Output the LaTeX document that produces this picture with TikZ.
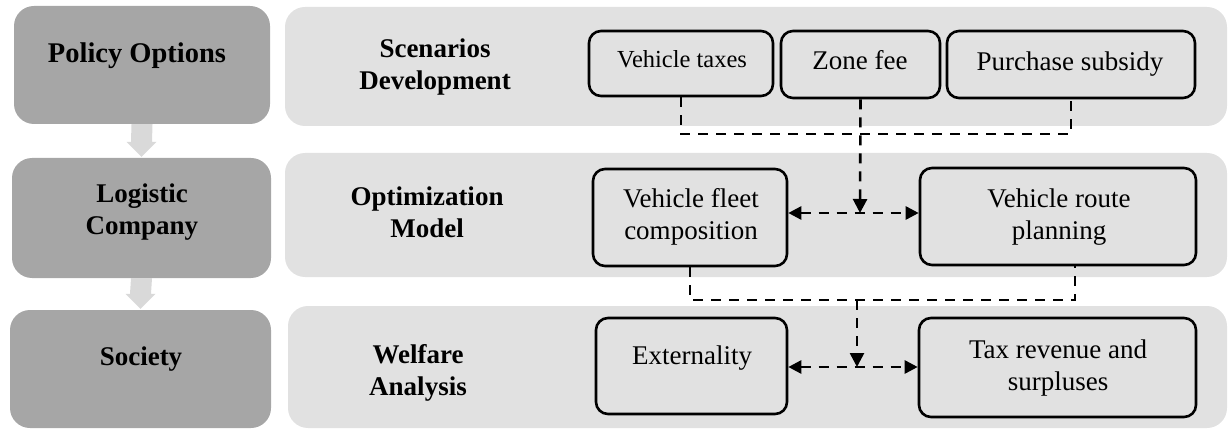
\documentclass[tikz,border=0pt]{standalone}
\usepackage{fontspec}
\setmainfont{Liberation Serif}
\usetikzlibrary{arrows.meta,calc}

\definecolor{levelgray}{HTML}{A6A6A6}
\definecolor{panelgray}{HTML}{E1E1E1}
\definecolor{flowgray}{HTML}{D9D9D9}

\tikzset{
  levelbox/.style={fill=levelgray, rounded corners=20pt, inner sep=0pt},
  panelbox/.style={fill=panelgray, rounded corners=20pt, inner sep=0pt},
  itembox/.style={draw=black, line width=2.6pt, rounded corners=12pt, inner sep=0pt},
  headtext/.style={anchor=base, align=center, inner sep=0pt,
    font=\fontsize{27}{32}\selectfont\bfseries},
  itemtext/.style={anchor=base, align=center, inner sep=0pt,
    font=\fontsize{27}{32}\selectfont},
  link/.style={line width=2.6pt, dash pattern=on 10pt off 8pt},
  tip/.style={-{Triangle[length=14pt,width=14pt]}},
  twotip/.style={{Triangle[length=13pt,width=13pt]}-{Triangle[length=13pt,width=13pt]}},
}

% broad grey arrow from the bottom of #1 to the top of #2
\newcommand\levelflow[2]{%
  \fill[flowgray]
    ($(#1.south)+(-10.5,0)$) -- ($(#2.north)+(-10.5,-16)$) --
    ($(#2.north)+(-15,-16)$) -- ($(#2.north)+(0,-1)$) --
    ($(#2.north)+(15,-16)$) -- ($(#2.north)+(10.5,-16)$) --
    ($(#1.south)+(10.5,0)$) -- cycle;}

\begin{document}
\begin{tikzpicture}[x=1pt,y=-1pt]
\useasboundingbox (0,0) rectangle (1228,430);

% left column: the three levels (text nodes are placed by their last baseline)
\node[levelbox, minimum width=256pt, minimum height=118pt] (pol) at (142,65) {};
\node[levelbox, minimum width=259pt, minimum height=120pt] (log) at (141.5,218) {};
\node[levelbox, minimum width=261pt, minimum height=118pt] (soc) at (140.5,369) {};
\levelflow{pol}{log}
\levelflow{log}{soc}

\node[headtext, font=\fontsize{28.5}{32}\selectfont\bfseries] (polt) at (137,63) {Policy Options};
\node[headtext] (logt) at (142,235) {Logistic\\Company};
\node[headtext] (soct) at (141,365) {Society};

% right column: one panel per level
\node[panelbox, minimum width=942pt, minimum height=119pt] (p1) at (756,66.5) {};
\node[panelbox, minimum width=942pt, minimum height=124pt] (p2) at (756,215) {};
\node[panelbox, minimum width=939pt, minimum height=122pt] (p3) at (757.5,367) {};

\node[headtext] (p1t) at (435,90) {Scenarios\\Development};
\node[headtext] (p2t) at (427,238) {Optimization\\Model};
\node[headtext] (p3t) at (418,395) {Welfare\\Analysis};

% policy instruments
\node[itembox, minimum width=184pt, minimum height=65pt] (vt) at (681,63.5) {};
\node[itembox, minimum width=159pt, minimum height=67pt] (zf) at (860.5,64.5) {};
\node[itembox, minimum width=248pt, minimum height=67pt] (ps) at (1071,64.5) {};
\node[itemtext, font=\fontsize{24.5}{30}\selectfont] (vtt) at (682,68) {Vehicle taxes};
\node[itemtext] (zft) at (860,70) {Zone fee};
\node[itemtext] (pst) at (1070,71) {Purchase subsidy};

% optimisation model
\node[itembox, minimum width=194pt, minimum height=97pt] (vf) at (690,217.5) {};
\node[itembox, minimum width=276pt, minimum height=97pt] (vr) at (1058,216.5) {};
\node[itemtext] (vft) at (691,240) {Vehicle fleet\\composition};
\node[itemtext] (vrt) at (1059,240) {Vehicle route\\planning};

% welfare analysis
\node[itembox, minimum width=191pt, minimum height=96pt] (ex) at (691.5,366) {};
\node[itembox, minimum width=277pt, minimum height=99pt] (tr) at (1057.5,367.5) {};
\node[itemtext] (ext) at (692,364) {Externality};
\node[itemtext] (trt) at (1058,390) {Tax revenue and\\surpluses};

% junctions of the dashed connectors
\coordinate (j1) at (860,134);
\coordinate (m1) at (860,213);
\coordinate (j2) at (857,300);
\coordinate (m2) at (857,367);

% instruments feed the optimisation model
\draw[link] (vt.south) |- (j1) -| (ps.south);
\draw[link, tip] (zf.south) -- (m1);
\draw[link, twotip] (vf.east |- m1) -- (vr.west |- m1);

% model results feed the welfare analysis
\draw[link] (vf.south) |- (j2) -| ($(vr.south)+(17,0)$);
\draw[link, tip] (j2) -- (m2);
\draw[link, twotip] (ex.east |- m2) -- (tr.west |- m2);
\end{tikzpicture}
\end{document}
